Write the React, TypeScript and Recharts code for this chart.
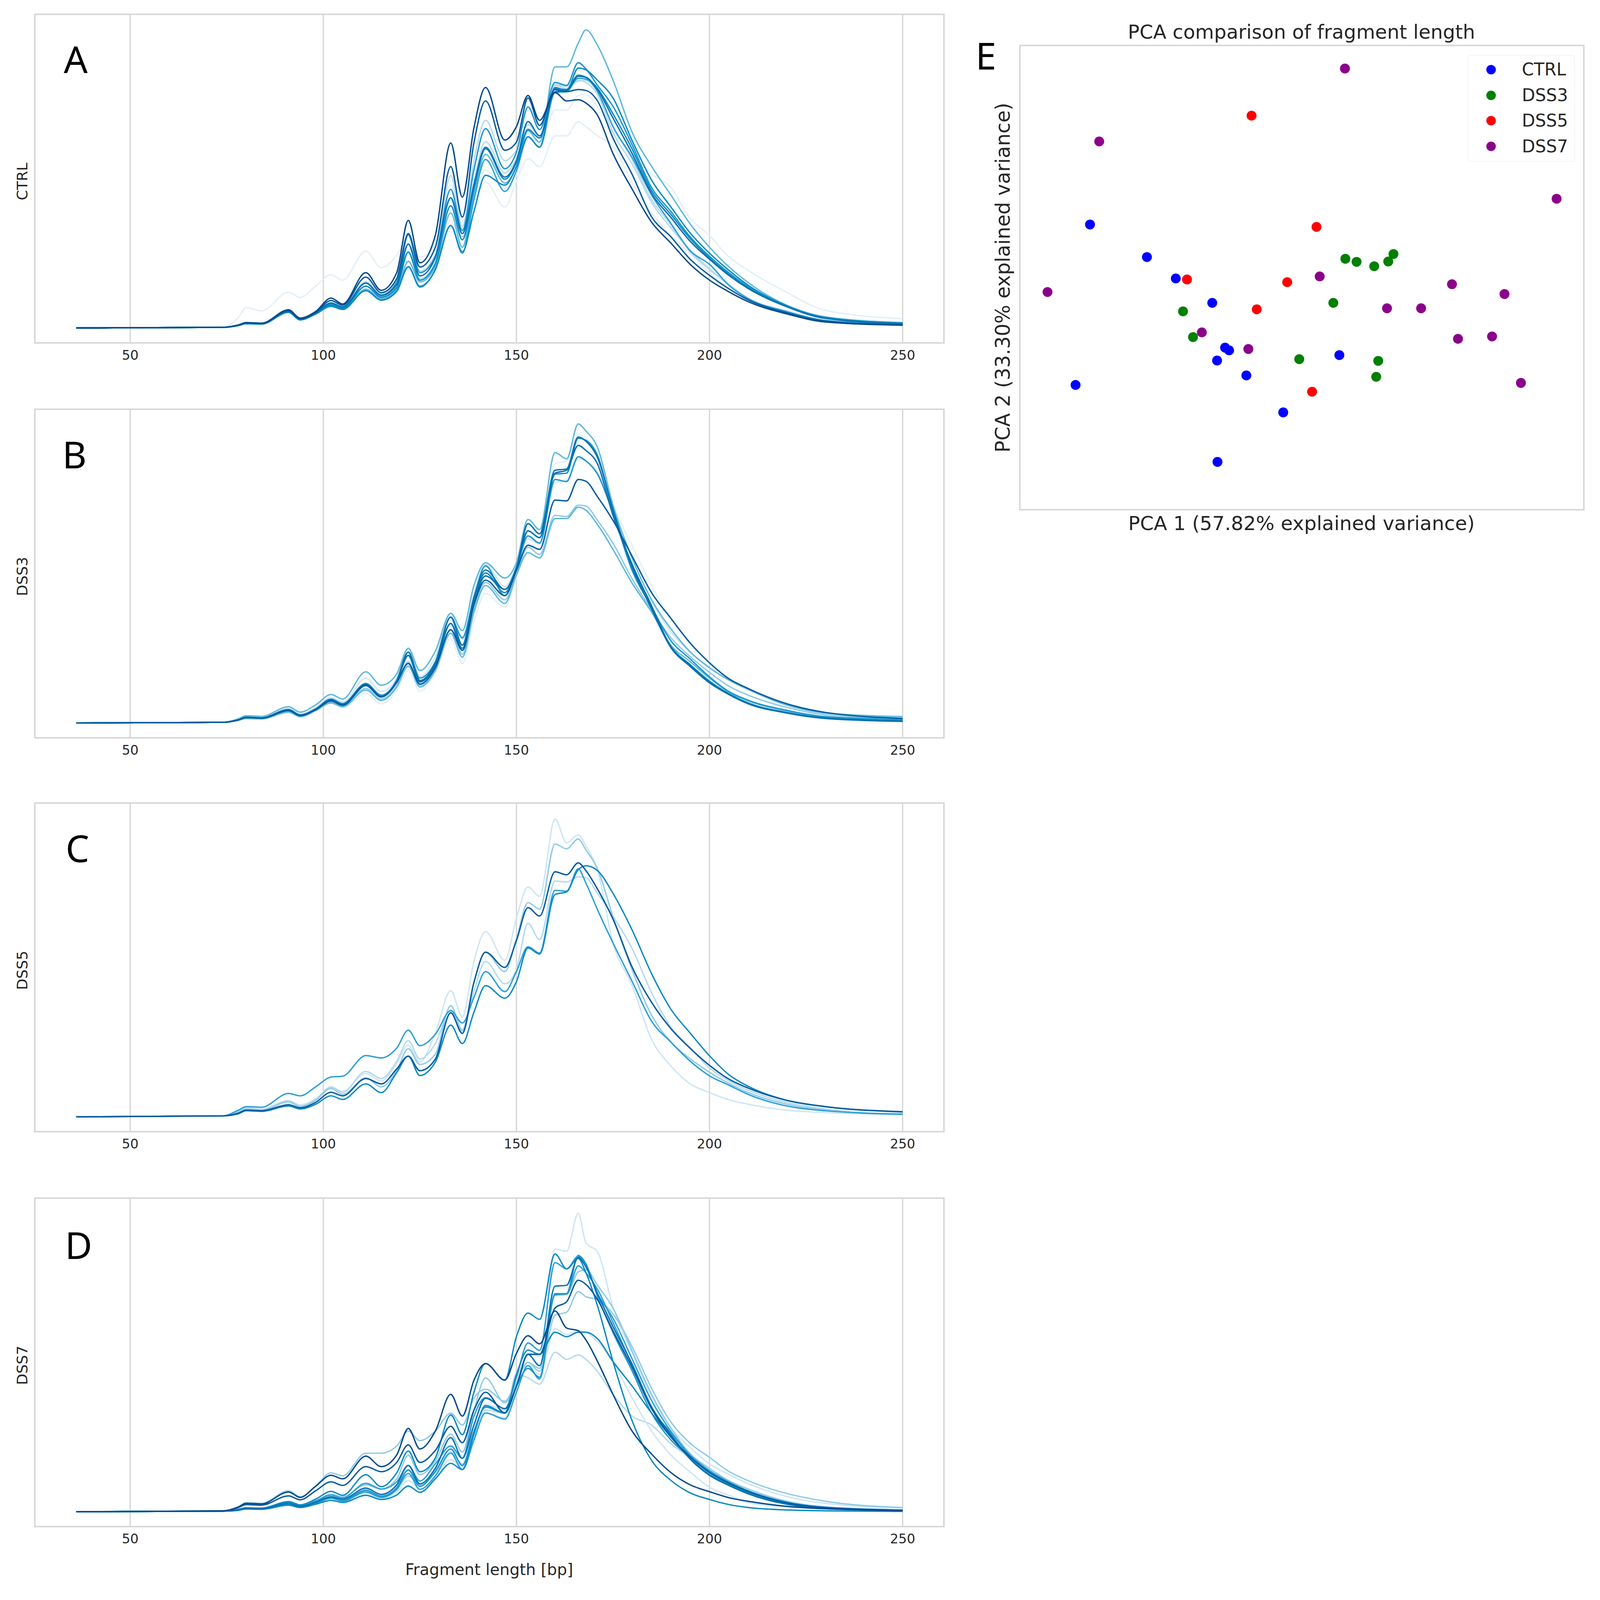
import React from 'react';
import { LineChart, Line, XAxis, YAxis, CartesianGrid, ReferenceArea, ScatterChart, Scatter, Legend } from 'recharts';

const FRAGMENT_LENGTHS = [36,74,78,80,84,91,94,98,102,105,111,115,119,122,125,129,133,136,139,142,147,150,153,156,160,163,166,168,171,175,180,185,190,195,200,205,210,220,230,250];
const X_TICKS = [50,100,150,200,250];

const CTRL_L1 = [0,.3,3.5,6.8,5.7,12,10.2,14,17.8,16,25.7,20.2,24.3,30.5,23.7,28,48,36,42,48.8,40.5,49.2,56.7,54,64.3,64.3,69.1,67.4,64.3,60.8,48.5,38.5,31,25,18.4,13.5,9.6,5.3,2.4,1.1];
const CTRL_L2 = [0,.2,.9,1.5,1.4,5.3,2.8,4.7,7.4,6.4,13,9.8,12.8,22.3,15.5,20.5,36,27,42,52.9,46.7,51.9,65,61.6,72.9,72.9,77.8,78.1,74,66,58.3,51.5,47,36.7,30.9,23.8,19.3,11.9,5.9,3.1];
const CTRL_C = [0,.2,.9,1.6,1.5,5.6,3,5,8.5,7.2,15.5,11.2,15.5,28.1,19,24.5,51,34,56,69.5,56,59.5,68.1,64.3,81.5,80.9,82.9,82.2,78.1,65.4,54.8,42,33.5,26,19.8,14.6,9.9,5.5,2.5,1.2];
const CTRL_E = [0,.2,.9,1.5,1.4,5.4,2.9,4.9,8,6.9,14,10.5,14.2,25.4,16.5,22,43,30.5,49,62.4,51.9,56.7,66.7,63.6,81.2,80.2,82.6,82.9,79.5,67.5,56.2,43,34.5,25.5,19.5,14.5,10,5.6,2.6,1.2];
const CTRL_H = [0,.2,.9,1.5,1.4,5.3,2.8,4.7,7.4,6.4,13,9.8,12.8,22.3,15.4,20.5,38.5,27,45,58.1,48.5,54,66,62.2,87.4,87.4,95.3,99.8,94.6,83,65.4,54.1,44.5,34.8,27,20.5,15.2,7.6,3.7,1.8];
const CTRL_I = [0,.2,.8,1.4,1.3,5.2,2.7,4.6,7.2,6.2,12.5,9.4,12.2,20.5,14,19.5,34.3,25,43,56.4,45.7,52.6,64,60.5,78.8,79.1,83.6,83.3,79.1,67.4,57,44.5,35,25.8,21.3,14.3,9.8,5.5,2.5,1.2];
const CTRL_D = [0,.2,.9,1.6,1.5,5.6,2.9,5,8.3,7,15,11,15.3,31.2,18.5,24,46.4,32.6,53,66.7,53.3,58.8,74,66.4,82.2,81.2,88.8,86.7,81.2,74.2,61.2,47,39,30.5,24,18.5,13.8,7.3,3.4,1.5];
const CTRL_K = [0,.2,.8,1.4,1.3,5.3,2.7,4.7,7.4,6.2,12.5,9.3,12.3,20.5,13.7,19.5,34.3,25.5,39,51.1,47.8,54,64,60.5,80.5,79.5,87,86.4,82.9,77,62.6,49.5,40.5,31.8,25,19.3,14.3,7.4,3.5,1.6];
const CTRL_G = [0,.2,.9,1.5,1.4,5.4,2.8,4.8,7.8,6.6,14,10.3,13.5,25.4,16,21.5,40.9,29.5,46.5,60,49.8,55.4,66.4,63.6,80.2,79.8,84.6,83.9,80.2,71.7,59.8,46,38,29.9,23.4,18,13.5,7.2,3.3,1.4];
const CTRL_F = [0,.2,.9,1.6,1.5,5.5,2.9,5,8.3,7,15,10.9,14.5,28.1,17.4,23.5,43.6,31.6,48,60.5,50.5,56,69.1,64.3,79.1,79.5,84.3,83.9,79.8,70.3,58.3,45,37,29,23,17.6,13.2,7.1,3.2,1.4];
const CTRL_B = [0,.2,1,1.7,1.5,5.8,3,5.2,9.2,7.6,17,11.8,16.5,31.6,20.4,27,54,37.1,62,76,59.5,62.2,77,67.8,79.8,79.1,79.8,79.5,76,63.6,51.3,37.2,30.5,23,17.6,13.1,9.4,5.1,2.3,1];
const CTRL_A = [0,.2,1,1.8,1.6,6.1,3.3,5.5,10,8,18.5,12.6,18.5,36,21.8,31,61.9,43.8,67,80.5,62.9,67.4,77.8,69.5,78.8,76,76.4,75.3,71.2,58.4,46.4,35.4,28.4,21.3,16,12.1,8.8,4.7,2,.9];

const DSS3_Q = [0,.2,.8,1.3,1.2,3.4,2,4,6.5,5.2,9.9,6.4,10.9,17.5,10.6,17,28.1,19.9,34,43.3,38.8,48.8,62,60,86.7,87.7,96.7,95.3,90.2,73.3,59.2,46,35,27,20.6,15,11.7,6.6,3.6,2.1];
const DSS3_V = [0,.2,1.1,2,1.8,4.8,3,5.2,8.6,7,15,10.5,15,25,15.5,22,36,28,43.5,53,45.7,52.5,61.6,59.8,80.5,81.2,88.4,87.7,84,70.9,51.6,40.5,30.5,23.5,18.3,14.2,11,5.9,3.2,2];
const DSS3_X = [0,.2,.9,1.5,1.4,3.8,2.2,4.2,6.9,5.6,11.6,8,12.5,20.5,12.6,18,31,23,38,47,41.2,50,58.8,56.4,69.5,69.1,72.9,72.6,67.8,60.2,48.1,37.8,28.5,22.2,16.9,12.3,9.3,5.2,2.7,1.5];
const DSS3_P = [0,.2,1.4,2.4,2.2,5.4,3.6,6,9.5,8,17.1,12.6,16.4,25,17.5,24,36.7,30.9,46,53.6,48.5,53.6,68.1,64.7,90.5,88.4,100.1,97.7,92.2,72.9,55,41.2,31.5,23.8,18.5,14.4,11.3,6,3.3,2.1];
const DSS3_Y = [0,.2,.9,1.5,1.4,3.6,2.1,4.1,6.7,5.4,11,7.5,12,19,12,17.5,30,22,37,46,40,49.5,57,55.2,68.4,68.4,72.2,71.2,66.4,58.1,46.7,37.1,26,20.5,15,10.3,7.4,4,2,1.2];
const DSS3_U = [0,.2,1,1.9,1.7,4.5,2.7,4.7,8,6.5,13.2,9.3,14.3,23.7,15,20.5,35.4,28.5,42,52.6,42.6,51.5,62.6,60.2,81.5,80.8,89.1,87.7,83.3,70.2,50.9,38.8,27.5,21.4,15.4,10.5,7.6,4.2,2.1,1.1];
const DSS3_S = [0,.2,1,1.8,1.6,4.2,2.5,4.5,7.5,6,12.6,8.8,13.8,22.6,13.9,19.5,33.3,25,41,50.2,43.6,52,64.3,62,83.3,83.6,95.3,94.6,89.5,70.9,51.6,38.5,25.6,19.5,14,9.8,6.7,3.5,1.7,.7];
const DSS3_R = [0,.2,1,1.9,1.7,4.4,2.6,4.6,7.8,6.2,13,8.9,14,23.7,14.2,20,35.4,26,42,51.2,44.7,52,66.7,63.3,84.6,85,95.7,94.3,88.8,71.5,52.3,38.1,25.2,18.9,13.4,9.5,6.4,3.3,1.5,.5];
const DSS3_T = [0,.2,1,1.8,1.6,4.2,2.5,4.5,7.5,6,12.5,8.7,13.7,22.6,13.7,19.5,33.3,24.3,40,49.2,44.7,52,64.3,62,83.6,84.6,92.9,91.2,86.7,69.5,53,39.2,25.5,19.2,13.6,9.6,6.5,3.4,1.6,.6];
const DSS3_W = [0,.2,1,1.8,1.6,4.1,2.4,4.4,7.3,5.9,12.5,8.7,13.5,19.9,13,18.5,31.2,24.3,39.5,47.8,42.6,51,59.5,58.1,74.6,74.3,81.5,80.9,75.7,67.8,55.7,43.6,35,26.7,20.1,14.8,11.5,6.4,3.5,1.5];

const DSS5_C1 = [0,.3,1.8,3,2.6,5.5,4,6,10,8.5,14.5,12,17.8,24,18.3,28,42.2,33.4,52,62,52.4,66.5,76.9,73.8,99.7,91.7,94.4,90.6,82.4,58.2,43.8,25.9,17,11,8.1,5.7,4.2,2.2,1.4,.7];
const DSS5_C4 = [0,.3,1.6,2.8,2.4,5.2,3.6,5.8,10,8.2,15.2,12.8,18.6,25.5,19.3,24.5,35.8,28.6,42,52,44.5,49.3,64.8,59.3,78.9,78.6,80.3,80,74.8,67.2,56.2,41.5,30,23.1,16.3,12,8.9,4.8,2.6,.7];
const DSS5_C2 = [0,.3,1.5,2.6,2.2,5,3.4,5.5,9.5,7.5,13,10,15.5,22.8,17.5,21,37.2,29,45,55,48.6,59.6,71.7,69.5,91.3,89.7,93,89.3,83,67,49,34,25,19.4,14.9,11.2,8.1,4.2,2.2,.7];
const DSS5_C5 = [0,.3,2.2,3.4,3.2,7.8,7,10,13.3,13.6,20.5,19.7,23,29,23.8,27.6,35.5,31.4,40,48.6,41.9,48.6,56.9,54.8,75.8,75.5,83,78.2,69.3,58.2,45.2,32,25,18.6,13.7,10.6,7.5,3.6,2,.9];
const DSS5_C6 = [0,.3,1,2,1.8,3.6,2.6,4.2,7,5.8,11,8.1,14.8,20.3,13.8,18.3,30.7,24.5,35,43.9,39.7,45.2,56.5,54.5,74.4,75.3,82.7,84,82.4,74.8,62.4,47.9,36,28,20.4,14.1,10.2,5.5,3.4,1.6];
const DSS5_C3 = [0,.3,1.2,2.2,2,4,3,4.8,8.2,7,12.8,11,16,20.3,15.4,19.3,34.8,27.9,45,55.1,50,59,70,67.2,82,81,85,82.4,76.2,66.2,50,38.3,29.5,22.9,17.2,12.6,9.6,5.5,3.4,1.7];

const DSS7_D1 = [0,.2,.6,1.1,1,3,1.9,3.2,5,4.2,7.5,5.4,8.4,14,8.6,15,22,15,24,36,34,44,53,52,87.9,87.2,99.9,90,87,68.5,53,38.5,28,21.5,16,12.5,9.4,5.1,2.8,1.2];
const DSS7_D12 = [0,.3,1.6,3,2.8,7,5,8.6,13,12,19.6,19.6,22,27,23.8,27,33,29,38,41,37,44,50,47,65.8,66.8,73.7,72,71,66.2,55.1,41.3,30,22.9,18.2,13.5,10.4,6.1,3.5,1.4];
const DSS7_D11 = [0,.2,.6,1,.9,2.7,1.7,3,4.6,3.8,7,5,7.2,12,9,13,20,16,25,34,33,46,44.8,42.7,53.4,51,52.5,51,46.9,39.3,32,29,22.8,18,13.5,9.8,7,3.3,1.6,.6];
const DSS7_D10 = [0,.2,.5,.9,.9,2.5,1.6,2.9,4.5,3.6,6.2,4.4,6.5,10.5,7.5,11.5,17.5,14.5,26,33,31.5,44,49,46,61.3,59.3,60.6,60,57,50,38,27,19,13.3,8.2,5.5,3,1.6,.9,.3];
const DSS7_D6 = [0,.2,.7,1.2,1.1,3.2,2,3.6,5.8,5,9,7.6,11,18.9,12.4,17,26,20,34,44.8,36.5,43,50,48,72.4,72.7,80.3,81,75.8,68.2,53.7,39.3,28,19.4,14.5,10.4,7.6,3.5,1.6,.6];
const DSS7_D5 = [0,.2,.5,1,.9,2.5,1.6,2.8,4.5,3.6,6.6,4.8,7.5,12.8,7.5,12,19.6,14.1,24,33.1,31,40,48.9,44.4,73,73,82.3,80,74.4,63.4,49,34.5,26.5,18.6,13.3,9.5,6.6,3,1.4,.5];
const DSS7_D13 = [0,.2,.6,1,.9,2.6,1.7,3,4.6,3.7,7.2,5.2,8,14,8.5,13.5,21,15.5,27,35,33,42,48,45,72.7,73,85.8,83,72,60,47,33,24,18.2,13,9.3,6.4,2.9,1.3,.4];
const DSS7_D3 = [0,.2,.7,1.2,1.1,3,2,3.6,5.6,4.6,9.5,7.6,10,15.5,10.3,16,22,17.9,32,38.2,34.5,45,56.5,54,83.4,81.3,85.5,82,73,64.8,51,37.2,26.9,19,13.8,10,7,3.2,1.5,.5];
const DSS7_D2 = [0,.2,.8,1.3,1.2,3.4,2.3,4.2,6.8,5.5,12.4,8.4,13,20.3,13.4,18,32.4,25.8,40,49.6,44,58.6,66.5,64.4,86.3,81.3,84.8,80,68.9,50.3,30.3,17.2,10.5,6.3,4.1,2.4,1.4,.6,.3,.1];
const DSS7_D9 = [0,.2,.5,.9,.8,2.2,1.4,2.5,3.8,3.1,5.5,4.1,5.6,8.6,6.5,11,16.2,14.1,26,35.5,33.1,46,54.1,52.7,60.1,58.6,60.1,60.1,57.9,50.3,42,33,25,17.8,12.4,9,6.2,2.7,1.3,.4];
const DSS7_D4 = [0,.2,.6,1.1,1,2.8,1.8,3.2,5,4.2,7.9,5.8,9,15.5,9.3,14.5,24.8,17.9,29,38,34.5,42,52.7,48.9,75.5,75.8,85.1,82,73,62,49.3,35.1,25.8,17.6,12.2,8.8,6,2.5,1.2,.4];
const DSS7_D7 = [0,.3,1.4,2.4,2.2,5.3,4,7,10,8.8,15.1,13.4,16.5,22.4,16.5,20.5,28.6,23.1,34,40,33.1,42,52.7,52.7,68.2,70.3,77.5,76.1,71,60.6,48.2,34.5,25.1,18.4,13.2,9.6,6.8,3,1.4,.5];
const DSS7_D8 = [0,.3,1.6,2.8,2.6,6.6,4.8,8.5,12.2,11,18.6,15.1,19,27.9,21,27,39.3,32,44,49.6,44.1,53,58.9,56.2,67.2,61.5,60.6,57.5,50.3,39.3,26.9,19.3,13.1,9,6.7,4.7,3.5,1.8,1,.4];

const PALE = '#e3eff9', PALE2 = '#cfe5f4', LIGHT = '#b5d9ee', LIGHT2 = '#8fcae6', LIGHT3 = '#5cb8dd';
const CYAN = '#2a9fd6', MID = '#1a96ce', MID2 = '#0a8ac4', DEEP = '#0570b0', DARK = '#045a9e', DARKEST = '#034a8c';

const CTRL_SERIES: [number[], string][] = [[CTRL_L1,PALE],[CTRL_L2,PALE],[CTRL_C,LIGHT],[CTRL_E,LIGHT],[CTRL_H,LIGHT3],[CTRL_I,CYAN],[CTRL_D,MID],[CTRL_K,MID2],[CTRL_G,MID2],[CTRL_F,DEEP],[CTRL_B,DARK],[CTRL_A,DARKEST]];
const DSS3_SERIES: [number[], string][] = [[DSS3_Q,PALE],[DSS3_V,PALE2],[DSS3_X,LIGHT2],[DSS3_P,LIGHT3],[DSS3_Y,LIGHT3],[DSS3_U,MID],[DSS3_S,MID2],[DSS3_R,DEEP],[DSS3_T,DEEP],[DSS3_W,DARK]];
const DSS5_SERIES: [number[], string][] = [[DSS5_C1,PALE2],[DSS5_C4,LIGHT],[DSS5_C2,LIGHT2],[DSS5_C5,CYAN],[DSS5_C6,MID2],[DSS5_C3,DARK]];
const DSS7_SERIES: [number[], string][] = [[DSS7_D1,PALE2],[DSS7_D12,LIGHT2],[DSS7_D11,LIGHT],[DSS7_D10,PALE2],[DSS7_D6,LIGHT2],[DSS7_D5,CYAN],[DSS7_D13,MID],[DSS7_D3,CYAN],[DSS7_D2,MID2],[DSS7_D9,MID2],[DSS7_D4,DEEP],[DSS7_D7,DARK],[DSS7_D8,DARKEST]];

const GROUP_NAMES = ['CTRL','DSS3','DSS5','DSS7'];
const GROUP_COLORS = ['#0000ff','#008000','#ff0000','#8b008b'];
const PCA_CTRL_X = [175,317,389,480,512,522,492,565,797,657,493,139];
const PCA_CTRL_Y = [841,745,682,610,478,470,440,396,456,287,141,368];
const PCA_DSS3_X = [812,840,884,919,932,782,407,432,697,894,889];
const PCA_DSS3_Y = [740,731,718,732,754,610,585,509,444,439,392];
const PCA_DSS5_X = [578,740,417,667,591,729];
const PCA_DSS5_Y = [1162,834,679,671,591,348];
const PCA_DSS7_X = [811,198,1339,69,748,1078,1209,916,1001,454,570,1093,1178,1250];
const PCA_DSS7_Y = [1301,1086,917,642,688,665,636,594,594,523,474,504,511,374];
const PCA_X = [PCA_CTRL_X,PCA_DSS3_X,PCA_DSS5_X,PCA_DSS7_X];
const PCA_Y = [PCA_CTRL_Y,PCA_DSS3_Y,PCA_DSS5_Y,PCA_DSS7_Y];

const FONT = '"DejaVu Sans", sans-serif';
const INK = '#262626';
const RULE = '#d6d6d6';
const X_DOMAIN: [number, number] = [25.3, 260.7];
const Y_DOMAIN: [number, number] = [-5, 105];
// The photographed area stops at 4096 px, so the 4363 px layout is scaled to fit it.
const FIT = 4096 / 4363;

function Panel({ top, name, letter, letterX, letterY, series, xLabel }: any) {
  const rows = FRAGMENT_LENGTHS.map((x, i) => {
    const row: any = { x };
    series.forEach((s: any, j: number) => { row['s' + j] = s[0][i]; });
    return row;
  });
  const T = 20;
  return (
    <div style={{ position: 'absolute', left: 0, top: top - T }}>
      <LineChart width={2640} height={1060} data={rows} margin={{ top: T, left: 95, right: 66, bottom: 0 }}>
        <CartesianGrid horizontal={false} stroke={RULE} strokeWidth={3.5} />
        <XAxis dataKey="x" type="number" domain={X_DOMAIN} allowDataOverflow ticks={X_TICKS} height={144} tickLine={false} axisLine={false} tickMargin={14} tick={{ fontSize: 36, fill: INK, fontFamily: FONT }} />
        <YAxis hide type="number" domain={Y_DOMAIN} allowDataOverflow />
        <ReferenceArea x1={X_DOMAIN[0]} x2={X_DOMAIN[1]} y1={Y_DOMAIN[0]} y2={Y_DOMAIN[1]} fill="none" stroke={RULE} strokeWidth={4} ifOverflow="visible" />
        {series.map((s: any, j: number) => (
          <Line key={j} dataKey={'s' + j} type="monotone" stroke={s[1]} strokeWidth={3.7} dot={false} isAnimationActive={false} />
        ))}
        <text x={61} y={T + 456} transform={`rotate(-90 61 ${T + 456})`} textAnchor="middle" dominantBaseline="central" fontSize={40} fill={INK} fontFamily={FONT}>{name}</text>
        <text x={letterX} y={letterY - top + T} fontSize={102} fill="#000" fontFamily='"Noto Sans", sans-serif'>{letter}</text>
        {xLabel ? <text x={1334} y={T + 896 + 132} textAnchor="middle" fontSize={43} fill={INK} fontFamily={FONT}>{xLabel}</text> : null}
      </LineChart>
    </div>
  );
}

function PcaLegend() {
  return (
    <div style={{ boxSizing: 'border-box', width: 293, height: 291, border: '2px solid #f4f4f4', borderRadius: 8, background: '#fff', fontFamily: FONT, fontSize: 47, color: INK, position: 'relative' }}>
      {GROUP_NAMES.map((n, i) => (
        <div key={n} style={{ position: 'absolute', left: 0, top: 8 + i * 69.5, height: 60, lineHeight: '60px', whiteSpace: 'nowrap' }}>
          <span style={{ position: 'absolute', left: 49, top: 17, width: 26, height: 26, borderRadius: 13, background: GROUP_COLORS[i] }} />
          <span style={{ position: 'absolute', left: 146 }}>{n}</span>
        </div>
      ))}
    </div>
  );
}

function Pca() {
  const PX = [0, 1407] as [number, number];
  const PY = [0, 1369] as [number, number];
  return (
    <div style={{ position: 'absolute', left: 2640, top: 0 }}>
      <ScatterChart width={1723} height={1460} margin={{ top: 124, left: 141, right: 44, bottom: 70 }}>
        <XAxis hide type="number" dataKey="x" domain={PX} allowDataOverflow />
        <YAxis hide type="number" dataKey="y" domain={PY} allowDataOverflow />
        <ReferenceArea x1={PX[0]} x2={PX[1]} y1={PY[0]} y2={PY[1]} fill="none" stroke={RULE} strokeWidth={4} ifOverflow="visible" />
        {GROUP_NAMES.map((n, g) => (
          <Scatter key={n} name={n} data={PCA_X[g].map((x, i) => ({ x, y: PCA_Y[g][i] }))} fill={GROUP_COLORS[g]} isAnimationActive={false}
            shape={(p: any) => <circle cx={p.cx} cy={p.cy} r={13.5} fill={GROUP_COLORS[g]} />} />
        ))}
        <Legend layout="vertical" align="center" verticalAlign="middle" content={<PcaLegend />} wrapperStyle={{ position: 'absolute', left: 1362, top: 150, width: 293, height: 291 }} />
        <text x={909} y={105} textAnchor="middle" fontSize={53} fill={INK} fontFamily={FONT}>PCA comparison of fragment length</text>
        <text x={909} y={1445} textAnchor="middle" fontSize={53.5} fill={INK} fontFamily={FONT}>PCA 1 (57.82% explained variance)</text>
        <text x={95} y={757} transform="rotate(-90 95 757)" textAnchor="middle" dominantBaseline="central" fontSize={54} fill={INK} fontFamily={FONT}>PCA 2 (33.30% explained variance)</text>
        <text x={20} y={190} fontSize={102} fill="#000" fontFamily='"Noto Sans", sans-serif'>E</text>
      </ScatterChart>
    </div>
  );
}

export default function App() {
  return (
    <div style={{ position: 'absolute', left: 0, top: 0, width: 4363, height: 4336, background: '#fff', overflow: 'hidden', transform: `scale(${FIT})`, transformOrigin: '0 0' }}>
      <Panel top={39} name="CTRL" letter="A" letterX={174} letterY={199} series={CTRL_SERIES} />
      <Panel top={1116} name="DSS3" letter="B" letterX={170} letterY={1277} series={DSS3_SERIES} />
      <Panel top={2190} name="DSS5" letter="C" letterX={179} letterY={2351} series={DSS5_SERIES} />
      <Panel top={3267} name="DSS7" letter="D" letterX={177} letterY={3433} series={DSS7_SERIES} xLabel="Fragment length [bp]" />
      <Pca />
    </div>
  );
}
